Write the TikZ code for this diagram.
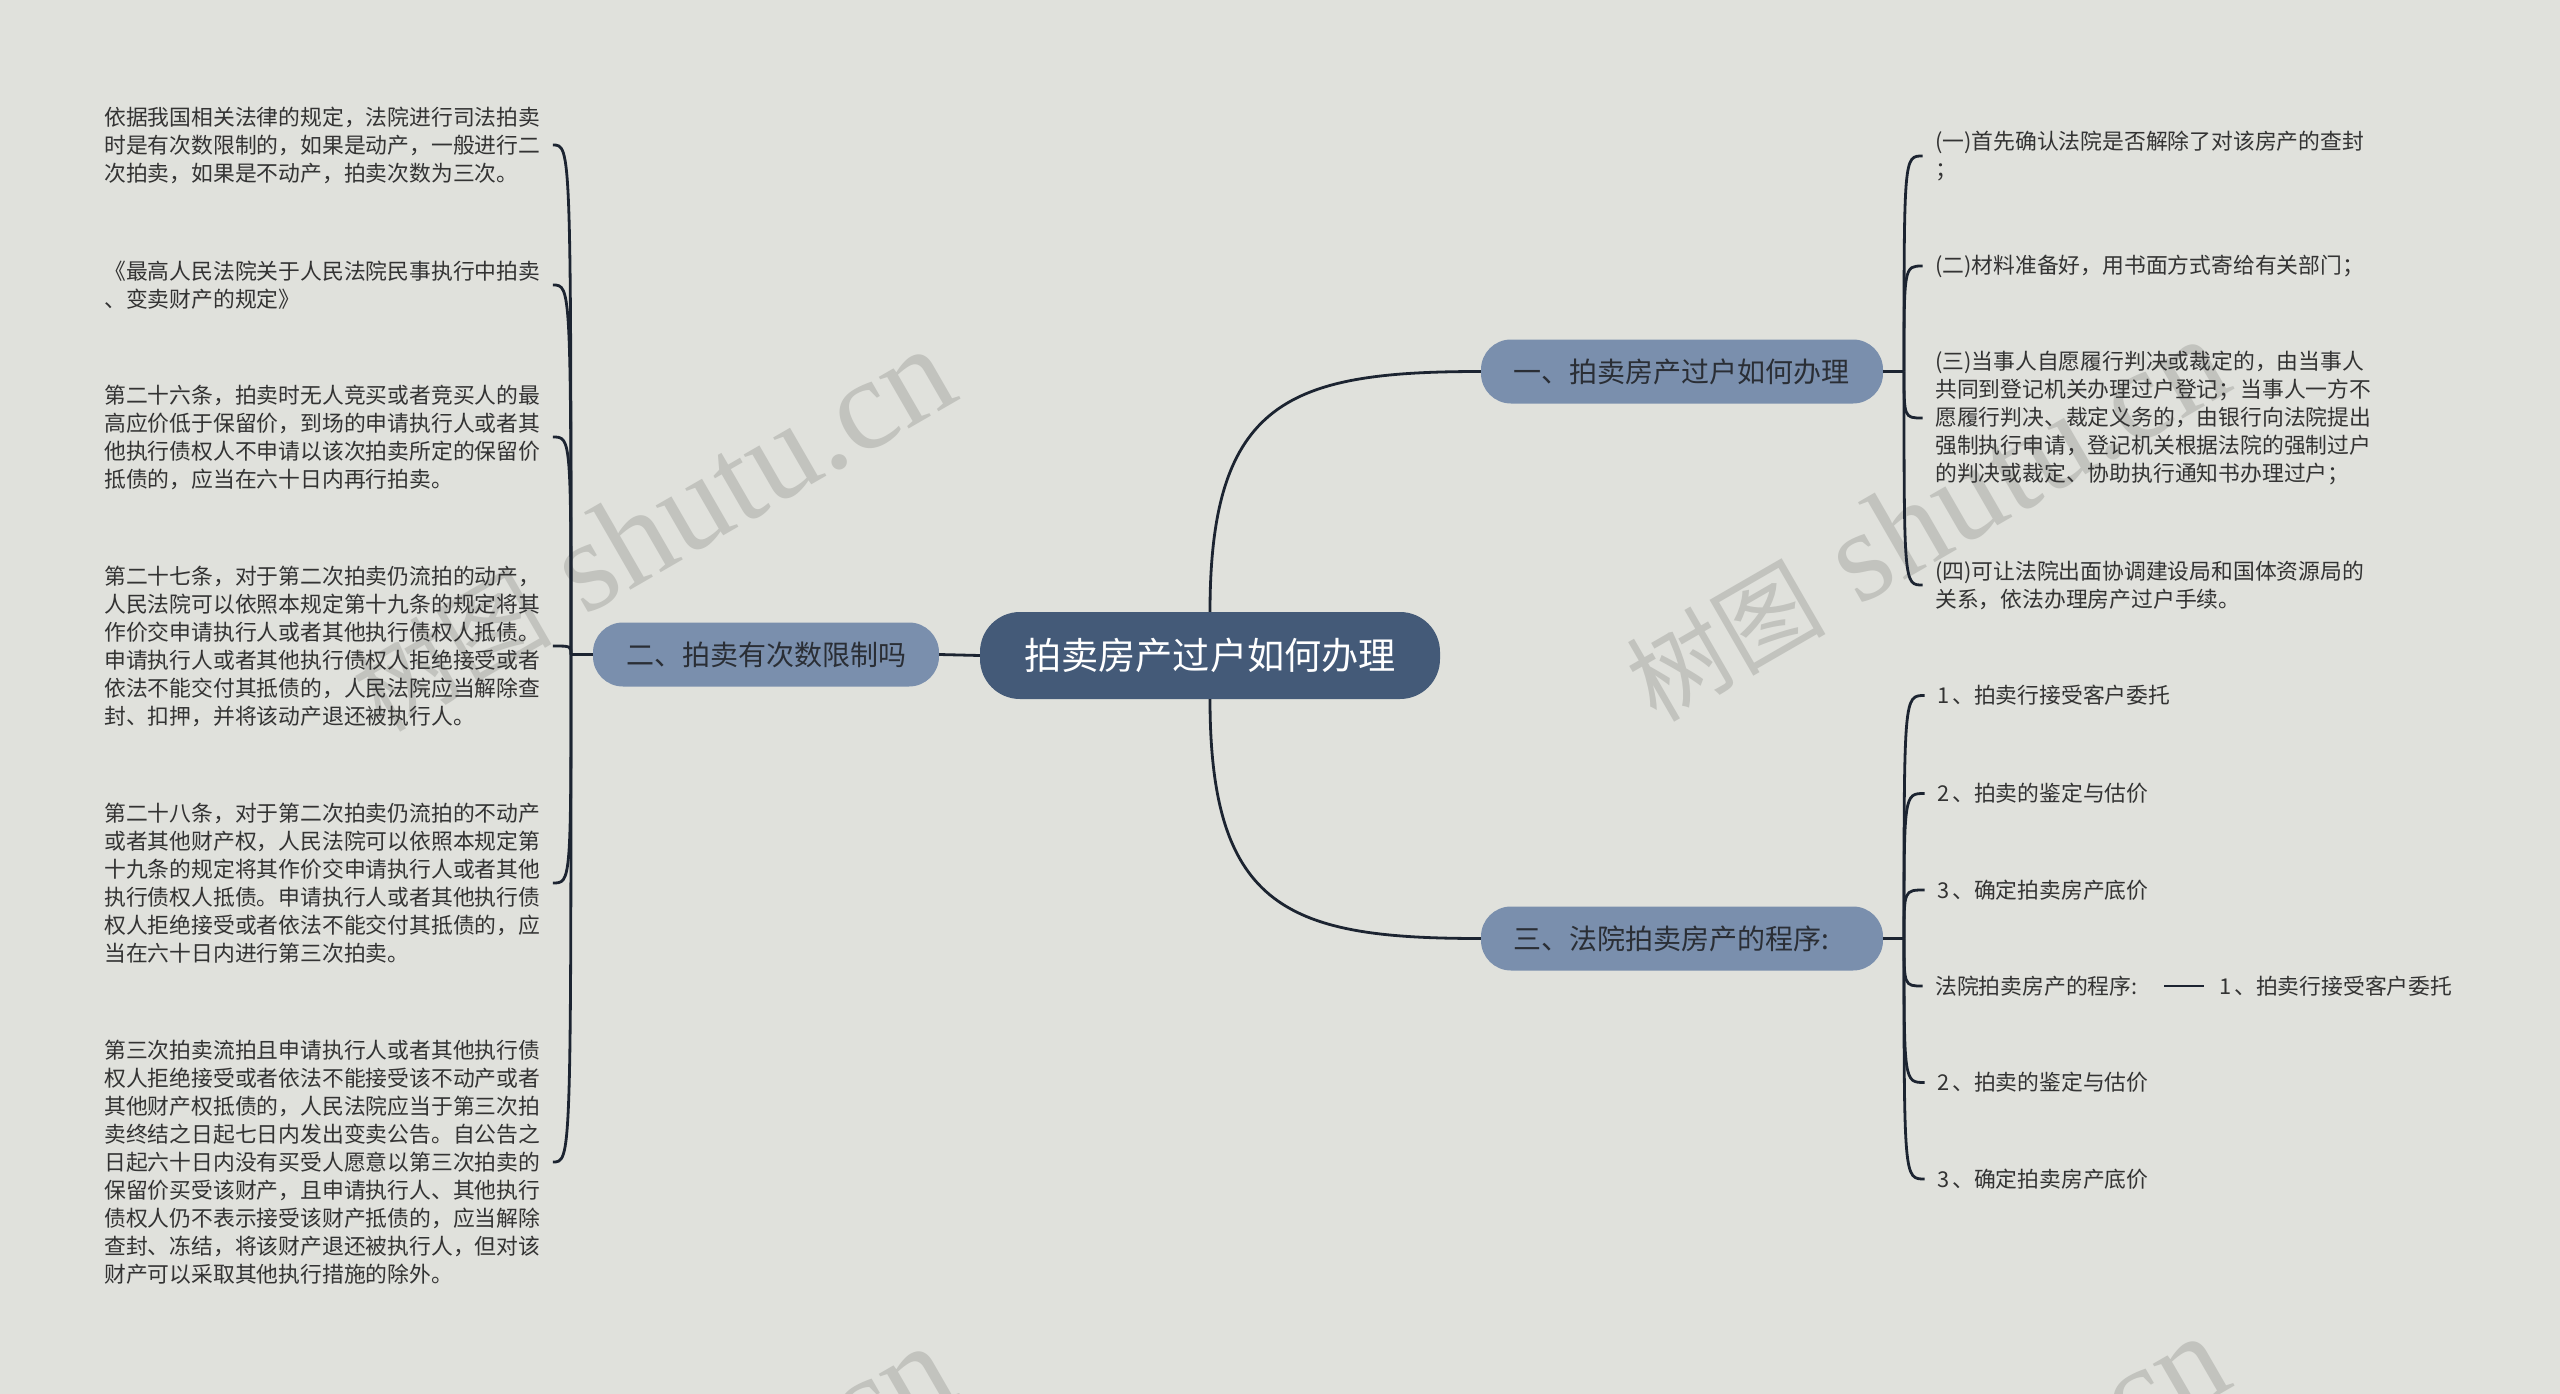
\documentclass[tikz,border=0pt]{standalone}
\usepackage{fontspec}
\setmainfont{Noto Sans CJK SC}
\newfontfamily\wmlatin{Liberation Serif}
\usetikzlibrary{calc}
\definecolor{bg}{HTML}{E0E1DC}
\definecolor{rootfill}{HTML}{445A78}
\definecolor{branchfill}{HTML}{7A8FAD}
\definecolor{linec}{HTML}{1C2431}
\definecolor{txt}{HTML}{333333}
\definecolor{btxt}{HTML}{2A2E35}
\definecolor{wm}{HTML}{C2C3BE}
\newcommand{\wmtext}{{\fontsize{100}{100}\selectfont 树图}\hspace{34pt}{\wmlatin\fontsize{130}{130}\selectfont shutu.cn}}
\newcommand{\nm}[1]{#1\kern3pt}
\tikzset{
  leaf/.style={font=\fontsize{21.8}{28}\selectfont, text=txt, align=left, inner xsep=12.5pt, inner ysep=0pt, anchor=west},
  root/.style={fill=rootfill, text=white, font=\fontsize{37.2}{44}\selectfont, minimum width=460pt, minimum height=87pt, rounded corners=40pt, inner sep=0pt},
  branch/.style={fill=branchfill, text=btxt, font=\fontsize{28}{34}\selectfont, minimum height=64pt, rounded corners=30pt, inner ysep=0pt},
  conn/.style={draw=linec, line width=2.8pt},
  wmark/.style={text=wm, rotate=30, inner sep=0pt}
}
\begin{document}
\begin{tikzpicture}[x=1pt,y=-1pt]
\useasboundingbox (0,0) rectangle (2560,1394);
\fill[bg] (0,0) rectangle (2560,1394);
% watermarks
\begin{scope}
\clip (0,0) rectangle (2560,1394);
\node[wmark] (wm1) at (652,530) {\wmtext};
\node[wmark] (wm2) at (1926,520) {\wmtext};
\node[wmark] (wm3) at (652,1527) {\wmtext};
\node[wmark] (wm4) at (1926,1517) {\wmtext};
\end{scope}

% main nodes
\node[root] (root) at (1210,655.5) {拍卖房产过户如何办理};
\node[branch, minimum width=346pt, inner xsep=0pt] (b2) at (766,654.5) {二、拍卖有次数限制吗};
\node[branch, text width=338pt, align=left, inner xsep=32pt] (b1) at (1682,371.5) {一、拍卖房产过户如何办理};
\node[branch, text width=338pt, align=left, inner xsep=32pt] (b3) at (1682,938.5) {三、法院拍卖房产的程序:};

% left leaves
\node[leaf] (l1) at (91.5,145) {依据我国相关法律的规定，法院进行司法拍卖\\时是有次数限制的，如果是动产，一般进行二\\次拍卖，如果是不动产，拍卖次数为三次。};
\node[leaf] (l2) at (91.5,285) {《最高人民法院关于人民法院民事执行中拍卖\\、变卖财产的规定》};
\node[leaf] (l3) at (91.5,437) {第二十六条，拍卖时无人竞买或者竞买人的最\\高应价低于保留价，到场的申请执行人或者其\\他执行债权人不申请以该次拍卖所定的保留价\\抵债的，应当在六十日内再行拍卖。};
\node[leaf] (l4) at (91.5,646) {第二十七条，对于第二次拍卖仍流拍的动产，\\人民法院可以依照本规定第十九条的规定将其\\作价交申请执行人或者其他执行债权人抵债。\\申请执行人或者其他执行债权人拒绝接受或者\\依法不能交付其抵债的，人民法院应当解除查\\封、扣押，并将该动产退还被执行人。};
\node[leaf] (l5) at (91.5,883) {第二十八条，对于第二次拍卖仍流拍的不动产\\或者其他财产权，人民法院可以依照本规定第\\十九条的规定将其作价交申请执行人或者其他\\执行债权人抵债。申请执行人或者其他执行债\\权人拒绝接受或者依法不能交付其抵债的，应\\当在六十日内进行第三次拍卖。};
\node[leaf] (l6) at (91.5,1162) {第三次拍卖流拍且申请执行人或者其他执行债\\权人拒绝接受或者依法不能接受该不动产或者\\其他财产权抵债的，人民法院应当于第三次拍\\卖终结之日起七日内发出变卖公告。自公告之\\日起六十日内没有买受人愿意以第三次拍卖的\\保留价买受该财产，且申请执行人、其他执行\\债权人仍不表示接受该财产抵债的，应当解除\\查封、冻结，将该财产退还被执行人，但对该\\财产可以采取其他执行措施的除外。};

% right top leaves
\node[leaf] (r1) at (1922.5,156) {(一)首先确认法院是否解除了对该房产的查封\\；};
\node[leaf] (r2) at (1922.5,266) {(二)材料准备好，用书面方式寄给有关部门；};
\node[leaf] (r3) at (1922.5,418) {(三)当事人自愿履行判决或裁定的，由当事人\\共同到登记机关办理过户登记；当事人一方不\\愿履行判决、裁定义务的，由银行向法院提出\\强制执行申请，登记机关根据法院的强制过户\\的判决或裁定、协助执行通知书办理过户；};
\node[leaf] (r4) at (1922.5,585) {(四)可让法院出面协调建设局和国体资源局的\\关系，依法办理房产过户手续。};

% right bottom leaves
\node[leaf] (p1) at (1924.5,695.5) {\nm{1}、拍卖行接受客户委托};
\node[leaf] (p2) at (1924.5,793.5) {\nm{2}、拍卖的鉴定与估价};
\node[leaf] (p3) at (1924.5,890) {\nm{3}、确定拍卖房产底价};
\node[leaf] (p4) at (1922.5,986) {法院拍卖房产的程序:};
\node[leaf] (p5) at (1924.5,1082.5) {\nm{2}、拍卖的鉴定与估价};
\node[leaf] (p6) at (1924.5,1179) {\nm{3}、确定拍卖房产底价};
\node[leaf] (q1) at (2206.5,986) {\nm{1}、拍卖行接受客户委托};

% spine coordinates
\coordinate (ls) at (571,654.5);
\coordinate (rs1) at (1904,371.5);
\coordinate (rs3) at (1904,938.5);

% connectors
\draw[conn] (root.west) -- (b2.east);
\draw[conn] (root.north) .. controls ($(root.north)+(0,-212)$) and ($(b1.west)+(-191,0)$) .. (b1.west);
\draw[conn] (root.south) .. controls ($(root.south)+(0,211)$) and ($(b3.west)+(-191,0)$) .. (b3.west);

\draw[conn] (b2.west) -- (ls);
\foreach \n in {l1,l2,l3,l4,l5,l6}
  \draw[conn] (ls) .. controls (ls |- \n.east) .. (\n.east);

\draw[conn] (b1.east) -- (rs1);
\foreach \n in {r1,r2,r3,r4}
  \draw[conn] (rs1) .. controls (rs1 |- \n.west) .. (\n.west);

\draw[conn] (b3.east) -- (rs3);
\foreach \n in {p1,p2,p3,p4,p5,p6}
  \draw[conn] (rs3) .. controls (rs3 |- \n.west) .. (\n.west);

\draw[conn, shorten <=14pt, shorten >=2.5pt] (p4.east) -- (q1.west);
\end{tikzpicture}
\end{document}
